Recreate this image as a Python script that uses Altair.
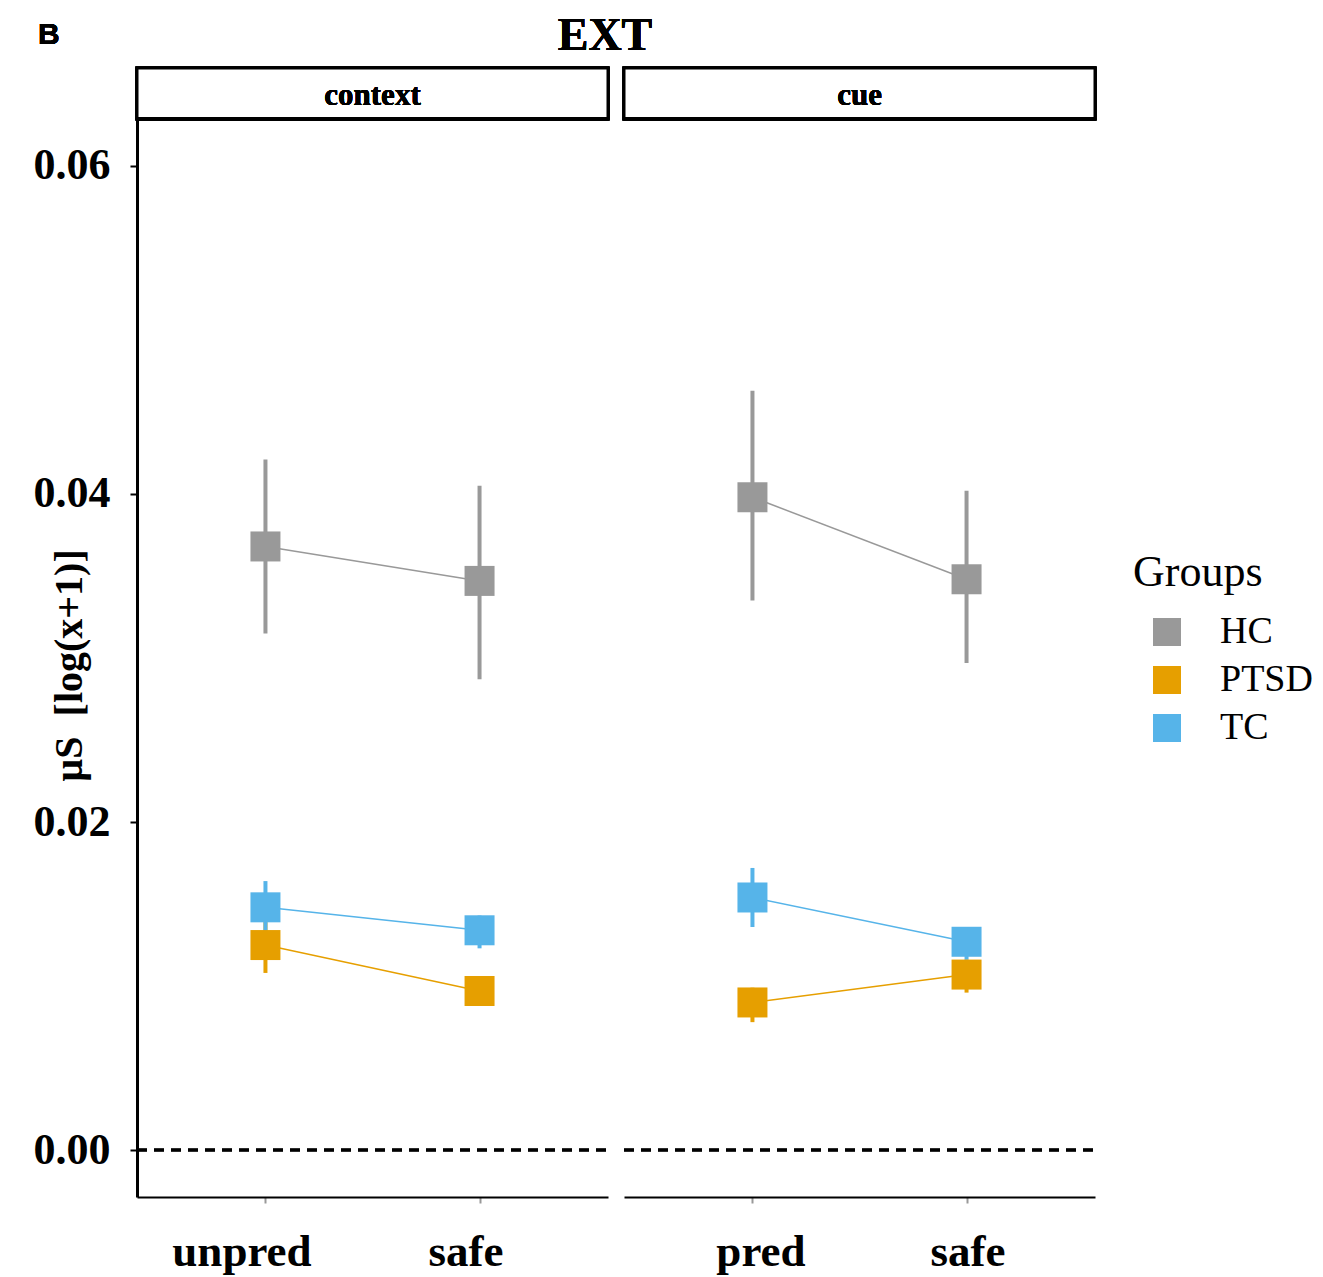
import altair as alt
import pandas as pd

groups = ["HC", "PTSD", "TC"]
colors = ["#999999", "#E69F00", "#56B4E9"]

panels = ["context", "context", "cue", "cue"]
conditions = ["unpred", "safe", "pred", "safe"]

HC_mean = [0.0368, 0.0347, 0.0398, 0.0348]
HC_lo = [0.0315, 0.0287, 0.0335, 0.0297]
HC_hi = [0.0421, 0.0405, 0.0463, 0.0402]

PTSD_mean = [0.0125, 0.0097, 0.0090, 0.0107]
PTSD_lo = [0.0108, 0.0088, 0.0078, 0.0096]
PTSD_hi = [0.0139, 0.0105, 0.0099, 0.0116]

TC_mean = [0.0148, 0.0134, 0.0154, 0.0127]
TC_lo = [0.0131, 0.0123, 0.0136, 0.0116]
TC_hi = [0.0164, 0.0143, 0.0172, 0.0134]

y_ticks = [0.0, 0.02, 0.04, 0.06]

rows = []
for g, m, lo, hi in [("HC", HC_mean, HC_lo, HC_hi),
                     ("PTSD", PTSD_mean, PTSD_lo, PTSD_hi),
                     ("TC", TC_mean, TC_lo, TC_hi)]:
    for i in range(4):
        rows.append({"panel": panels[i], "cond": conditions[i], "group": g,
                     "mean": m[i], "lo": lo[i], "hi": hi[i]})
df = pd.DataFrame(rows)

SERIF = "Liberation Serif"
W = 471
H = 1078          # data region height
SH = 51           # strip height (drawn inside the top of the view)
Y_LO, Y_HI = -0.00286, 0.06286
PPU = H / (Y_HI - Y_LO)
Y_STRIP_TOP = Y_HI + SH / PPU
ydom = [Y_LO, Y_STRIP_TOP]


def panel(name, first):
    sub = df[df.panel == name]
    cats = [c for p, c in zip(panels, conditions) if p == name]
    ysc = alt.Scale(domain=ydom, nice=False, zero=False)
    if first:
        yaxis = alt.Axis(values=y_ticks, format=".2f", title="µS\u00a0\u00a0[log(x+1)]",
                         labelFont=SERIF, labelFontWeight="bold", labelFontSize=44,
                         labelColor="black", labelPadding=20, tickSize=7,
                         tickColor="black", tickWidth=2, domainColor="black",
                         domainWidth=3, grid=False, titleFont=SERIF,
                         titleFontWeight="bold", titleFontSize=40, titleColor="black",
                         titleAngle=270, titleBaseline="middle", titleX=-68,
                         titleY=597, titleAlign="center")
        legend = None
        loff = {"condition": {"test": "datum.value == 'unpred'", "value": -24},
                "value": -14}
    else:
        yaxis = None
        legend = alt.Legend(title="Groups", orient="none", legendX=509, legendY=483)
        loff = {"condition": {"test": "datum.value == 'pred'", "value": 8},
                "value": 1}
    color = alt.Color("group:N", scale=alt.Scale(domain=groups, range=colors),
                      legend=legend)
    x = alt.X("cond:N", sort=cats,
              scale=alt.Scale(type="point", padding=0.6, domain=cats),
              axis=alt.Axis(title=None, labelFont=SERIF, labelFontWeight="bold",
                            labelFontSize=45, labelColor="black", labelAngle=0,
                            labelPadding=26, labelOffset=loff, tickSize=6,
                            tickColor="#999999", tickWidth=2, domainColor="black",
                            domainWidth=2, grid=False))
    base = alt.Chart(sub).encode(x=x, color=color)
    bars = base.mark_rule(strokeWidth=4).encode(
        y=alt.Y("lo:Q", scale=ysc, axis=yaxis), y2="hi:Q")
    zero = base.mark_rule(color="black", strokeWidth=2.5, strokeDash=[10, 7]).encode(
        x=alt.value(0), x2=alt.value(W), y=alt.datum(0.0), color=alt.value("black"))
    line = base.mark_line(strokeWidth=1.5).encode(
        y=alt.Y("mean:Q", scale=ysc), detail="group:N")
    pts = base.mark_point(shape="square", filled=True, size=900, opacity=1).encode(
        y=alt.Y("mean:Q", scale=ysc))
    # facet strip
    box = base.mark_rect(fill="white", stroke="black", strokeWidth=3).encode(
        x=alt.value(0), x2=alt.value(W), y=alt.datum(Y_HI), y2=alt.datum(Y_STRIP_TOP),
        color=alt.value("white"))
    boxline = base.mark_rule(color="black", strokeWidth=4).encode(
        x=alt.value(0), x2=alt.value(W), y=alt.datum(Y_HI), color=alt.value("black"))
    stxt = base.mark_text(font=SERIF, fontWeight="bold", fontSize=31, text=name,
                          dy=2).encode(
        x=alt.value(W / 2), y=alt.datum((Y_HI + Y_STRIP_TOP) / 2),
        color=alt.value("black"))
    layers = [bars, zero, line, pts, box, boxline, stxt]
    if first:
        t1 = base.mark_text(font=SERIF, fontWeight="bold", fontSize=46, text="EXT",
                            baseline="alphabetic").encode(
            x=alt.value(468), y=alt.value(-18), color=alt.value("black"))
        t2 = base.mark_text(font="Liberation Sans", fontWeight="bold", fontSize=30,
                            text="B", align="left", baseline="alphabetic").encode(
            x=alt.value(-99), y=alt.value(-24), color=alt.value("black"))
        layers += [t1, t2]
    return alt.layer(*layers).properties(width=W, height=H + SH)


chart = alt.hconcat(panel("context", True), panel("cue", False),
                    spacing=16, bounds="flush").resolve_legend(
    color="independent"
).properties(
    padding={"left": 25, "top": 5, "right": 0, "bottom": 5}
).configure_view(stroke=None).configure_legend(
    titleFont=SERIF, titleFontSize=44, titleFontWeight="normal", titleColor="black",
    labelFont=SERIF, labelFontSize=38, labelColor="black",
    symbolType="square", symbolSize=784, symbolStrokeWidth=0, symbolOffset=15,
    labelOffset=34, rowPadding=10, titlePadding=18, padding=0
)

chart.save("out.html", embed_options={"renderer": "svg", "actions": False})
